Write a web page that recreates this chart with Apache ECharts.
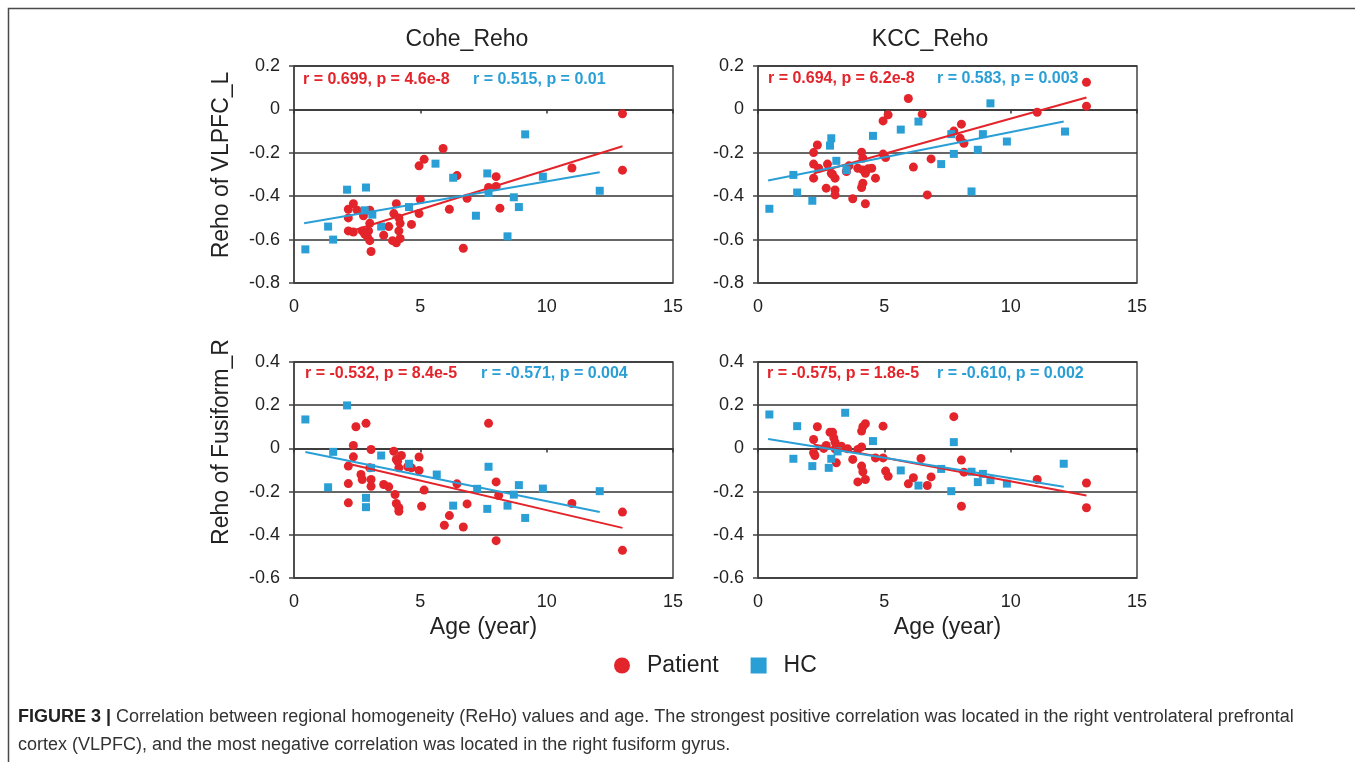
<!DOCTYPE html>
<html>
<head>
<meta charset="utf-8">
<title>FIGURE 3</title>
<script src="https://cdn.jsdelivr.net/npm/echarts@6/dist/echarts.min.js"></script>
<style>
html, body { margin: 0; padding: 0; background: #fff; }
#main { width: 1355px; height: 762px; }
</style>
</head>
<body>
<div id="main"></div>
<script>
// 数据
var ageTicks = [0, 15, 5];           // min, max, interval of the age axis
var vlpfcRange = [-0.8, 0.2];
var fusiformRange = [-0.6, 0.4];

// Reho of VLPFC_L, Cohe_Reho
var coheVlpfcPatient = [[13.0,-0.02],[13.0,-0.28],[5.9,-0.18],[5.15,-0.23],[4.95,-0.26],[6.45,-0.305],[8.0,-0.31],[7.7,-0.36],[8.0,-0.355],[11.0,-0.27],[6.85,-0.41],[6.15,-0.46],[8.15,-0.455],[6.7,-0.64],[5.0,-0.415],[4.95,-0.48],[4.65,-0.53],[4.05,-0.435],[3.95,-0.48],[4.15,-0.5],[4.2,-0.525],[4.15,-0.56],[4.2,-0.595],[4.05,-0.615],[3.9,-0.605],[3.75,-0.54],[3.55,-0.58],[3.0,-0.525],[2.95,-0.56],[2.9,-0.585],[3.0,-0.605],[3.05,-0.655],[2.75,-0.49],[2.35,-0.435],[2.5,-0.465],[2.15,-0.46],[2.15,-0.5],[2.15,-0.56],[2.35,-0.565],[2.7,-0.56],[2.8,-0.575],[3.0,-0.465]];
var coheVlpfcHC = [[0.45,-0.645],[1.35,-0.54],[1.55,-0.6],[2.1,-0.37],[2.85,-0.36],[2.8,-0.465],[3.1,-0.485],[3.45,-0.54],[4.55,-0.45],[5.6,-0.25],[6.3,-0.315],[7.65,-0.295],[7.7,-0.385],[7.2,-0.49],[8.7,-0.405],[8.9,-0.45],[8.45,-0.585],[9.15,-0.115],[9.85,-0.31],[12.1,-0.375]];
var coheVlpfcPatientFit = [[2.15,-0.565],[13.0,-0.17]];
var coheVlpfcHCFit = [[0.4,-0.525],[12.1,-0.29]];

// Reho of VLPFC_L, KCC_Reho
var kccVlpfcPatient = [[13.0,0.125],[13.0,0.015],[11.05,-0.013],[5.95,0.05],[6.5,-0.022],[5.15,-0.025],[4.95,-0.053],[7.75,-0.1],[8.05,-0.068],[8.0,-0.133],[8.15,-0.156],[4.95,-0.206],[5.05,-0.222],[6.85,-0.228],[6.15,-0.266],[6.7,-0.394],[4.1,-0.197],[4.15,-0.225],[3.95,-0.271],[4.15,-0.279],[4.35,-0.274],[4.5,-0.271],[4.25,-0.294],[4.65,-0.317],[4.15,-0.34],[4.1,-0.36],[3.75,-0.412],[4.25,-0.435],[2.35,-0.164],[2.2,-0.199],[2.2,-0.252],[2.4,-0.271],[2.75,-0.252],[2.9,-0.294],[2.2,-0.317],[2.7,-0.363],[3.05,-0.371],[3.05,-0.394],[3.05,-0.317],[3.5,-0.286],[2.95,-0.3],[3.6,-0.26]];
var kccVlpfcHC = [[0.45,-0.458],[1.4,-0.302],[1.55,-0.383],[2.15,-0.421],[2.9,-0.133],[2.85,-0.167],[3.1,-0.237],[3.5,-0.28],[4.55,-0.122],[5.65,-0.093],[6.35,-0.056],[7.25,-0.252],[7.65,-0.114],[7.75,-0.205],[8.45,-0.378],[8.7,-0.186],[8.9,-0.114],[9.2,0.028],[9.85,-0.148],[12.15,-0.102]];
var kccVlpfcPatientFit = [[2.2,-0.295],[13.0,0.055]];
var kccVlpfcHCFit = [[0.4,-0.328],[12.1,-0.056]];

// Reho of Fusiform_R, Cohe_Reho
var coheFusiPatient = [[13.0,-0.295],[13.0,-0.472],[11.0,-0.255],[7.7,0.116],[8.0,-0.155],[8.1,-0.218],[8.0,-0.427],[6.85,-0.257],[6.7,-0.364],[6.45,-0.164],[6.15,-0.311],[5.95,-0.356],[5.15,-0.193],[5.05,-0.268],[4.95,-0.04],[4.95,-0.102],[4.65,-0.09],[4.15,-0.09],[4.25,-0.033],[4.05,-0.051],[3.95,-0.013],[4.0,-0.214],[4.05,-0.255],[4.15,-0.275],[4.15,-0.291],[3.75,-0.178],[3.55,-0.167],[3.05,-0.005],[3.0,-0.09],[3.05,-0.144],[3.05,-0.175],[2.85,0.116],[2.45,0.1],[2.35,0.014],[2.35,-0.039],[2.15,-0.082],[2.65,-0.121],[2.7,-0.144],[2.15,-0.163],[2.15,-0.252],[4.5,-0.085],[4.1,-0.06]];
var coheFusiHC = [[0.45,0.134],[1.55,-0.016],[1.35,-0.18],[2.1,0.199],[2.85,-0.229],[2.85,-0.272],[3.05,-0.09],[3.45,-0.033],[4.55,-0.071],[5.65,-0.121],[6.3,-0.265],[7.25,-0.187],[7.7,-0.085],[7.65,-0.28],[8.45,-0.265],[8.7,-0.214],[8.9,-0.17],[9.15,-0.322],[9.85,-0.186],[12.1,-0.198]];
var coheFusiPatientFit = [[2.15,-0.071],[13.0,-0.368]];
var coheFusiHCFit = [[0.45,-0.017],[12.1,-0.294]];

// Reho of Fusiform_R, KCC_Reho
var kccFusiPatient = [[13.0,-0.16],[13.0,-0.275],[11.05,-0.144],[7.75,0.147],[8.05,-0.054],[8.15,-0.11],[8.05,-0.268],[6.85,-0.132],[6.7,-0.172],[6.45,-0.047],[6.15,-0.136],[5.95,-0.164],[4.95,0.103],[4.95,-0.044],[4.65,-0.044],[5.05,-0.105],[5.15,-0.129],[4.25,0.114],[4.15,0.1],[4.1,0.08],[3.95,-0.005],[4.1,0.007],[4.1,-0.082],[4.15,-0.108],[3.95,-0.155],[4.25,-0.144],[3.75,-0.051],[3.55,-0.002],[3.05,-0.002],[3.05,0.029],[2.95,0.075],[2.85,0.075],[3.0,0.049],[2.35,0.1],[2.2,0.041],[2.2,-0.02],[2.25,-0.033],[2.7,0.014],[3.1,-0.067],[3.3,0.01],[2.6,0.0]];
var kccFusiHC = [[0.45,0.157],[1.55,0.103],[1.4,-0.048],[2.15,-0.082],[2.8,-0.09],[2.9,-0.048],[3.15,-0.014],[3.45,0.165],[4.55,0.034],[5.65,-0.102],[6.35,-0.172],[7.25,-0.095],[7.75,0.029],[7.65,-0.198],[8.45,-0.108],[8.7,-0.156],[8.9,-0.118],[9.2,-0.147],[9.85,-0.163],[12.1,-0.071]];
var kccFusiPatientFit = [[2.2,0.018],[13.0,-0.218]];
var kccFusiHCFit = [[0.4,0.044],[12.1,-0.178]];

var statsText = [
    ["r = 0.699, p = 4.6e-8", "r = 0.515, p = 0.01"],
    ["r = 0.694, p = 6.2e-8", "r = 0.583, p = 0.003"],
    ["r = -0.532, p = 8.4e-5", "r = -0.571, p = 0.004"],
    ["r = -0.575, p = 1.8e-5", "r = -0.610, p = 0.002"]
];

var RED = "#e3242b";
var BLUE = "#2a9fd6";
var FONT = '"Liberation Sans", Arial, sans-serif';

// 画面配置
var panels = [
    {grid: {left: 294, top: 66, width: 379, height: 217}, range: vlpfcRange, pat: coheVlpfcPatient, hc: coheVlpfcHC, patFit: coheVlpfcPatientFit, hcFit: coheVlpfcHCFit, xName: "", stat: [303, 473, 80]},
    {grid: {left: 758, top: 66, width: 379, height: 217}, range: vlpfcRange, pat: kccVlpfcPatient, hc: kccVlpfcHC, patFit: kccVlpfcPatientFit, hcFit: kccVlpfcHCFit, xName: "", stat: [768, 937, 79]},
    {grid: {left: 294, top: 362, width: 379, height: 216}, range: fusiformRange, pat: coheFusiPatient, hc: coheFusiHC, patFit: coheFusiPatientFit, hcFit: coheFusiHCFit, xName: "Age (year)", stat: [305, 481, 374]},
    {grid: {left: 758, top: 362, width: 379, height: 216}, range: fusiformRange, pat: kccFusiPatient, hc: kccFusiHC, patFit: kccFusiPatientFit, hcFit: kccFusiHCFit, xName: "Age (year)", stat: [767, 937, 374]}
];

var grids = [], xAxes = [], yAxes = [], series = [];
var graphics = [
    {type: "polyline", shape: {points: [[8.5, 762], [8.5, 8.5], [1355, 8.5]]}, style: {stroke: "#4a4a4a", lineWidth: 1.5, fill: null}},
    {type: "text", x: 467, y: 40, style: {text: "Cohe_Reho", font: "23px " + FONT, fill: "#222", align: "center", verticalAlign: "middle"}},
    {type: "text", x: 930, y: 40, style: {text: "KCC_Reho", font: "23px " + FONT, fill: "#222", align: "center", verticalAlign: "middle"}},
    {type: "text", x: 222, y: 165, rotation: Math.PI / 2, style: {text: "Reho of VLPFC_L", font: "23px " + FONT, fill: "#222", align: "center", verticalAlign: "middle"}},
    {type: "text", x: 222, y: 442, rotation: Math.PI / 2, style: {text: "Reho of Fusiform_R", font: "23px " + FONT, fill: "#222", align: "center", verticalAlign: "middle"}},
    {type: "text", left: 18, top: 703, style: {
        text: "{b|FIGURE 3 |} Correlation between regional homogeneity (ReHo) values and age. The strongest positive correlation was located in the right ventrolateral prefrontal\ncortex (VLPFC), and the most negative correlation was located in the right fusiform gyrus.",
        font: "18px " + FONT, fill: "#333", lineHeight: 28,
        rich: {b: {fontWeight: "bold", fontSize: 18, fontFamily: FONT, fill: "#222", lineHeight: 28}}
    }}
];

for (var i = 0; i < panels.length; i++) {
    var p = panels[i];
    grids.push({left: p.grid.left, top: p.grid.top, width: p.grid.width, height: p.grid.height,
        show: true, borderColor: "#444", borderWidth: 1.5, backgroundColor: "transparent"});
    // 刻度标签
    xAxes.push({gridIndex: i, type: "value", min: ageTicks[0], max: ageTicks[1], interval: ageTicks[2],
        axisLine: {show: false, onZero: false}, axisTick: {show: false}, splitLine: {show: false},
        axisLabel: {fontSize: 18, color: "#222", margin: 15},
        name: p.xName, nameLocation: "middle", nameGap: 38,
        nameTextStyle: {fontSize: 23, color: "#222"}});
    // y=0 上的小刻度
    xAxes.push({gridIndex: i, type: "value", min: ageTicks[0], max: ageTicks[1], interval: ageTicks[2],
        position: "bottom",
        axisLine: {show: true, onZero: true, lineStyle: {color: "#333", width: 1.5}},
        axisTick: {show: true, length: 4, lineStyle: {color: "#333", width: 1.5}},
        axisLabel: {show: false}, splitLine: {show: false}});
    yAxes.push({gridIndex: i, type: "value", min: p.range[0], max: p.range[1], interval: 0.2,
        axisLine: {show: true, onZero: false, lineStyle: {color: "#444", width: 1.5}},
        axisTick: {show: true, length: 5, lineStyle: {color: "#444", width: 1.5}},
        axisLabel: {fontSize: 18, color: "#222", margin: 14},
        splitLine: {show: true, lineStyle: {color: "#333", width: 1.5}}});

    series.push({type: "scatter", name: "Patient", xAxisIndex: 2 * i, yAxisIndex: i,
        symbol: "circle", symbolSize: 9, itemStyle: {color: RED, opacity: 1}, data: p.pat});
    series.push({type: "scatter", name: "HC", xAxisIndex: 2 * i, yAxisIndex: i,
        symbol: "rect", symbolSize: 8, itemStyle: {color: BLUE, opacity: 1}, data: p.hc});
    series.push({type: "line", name: "Patient fit", xAxisIndex: 2 * i, yAxisIndex: i, symbol: "none",
        silent: true, lineStyle: {color: RED, width: 2}, data: p.patFit});
    series.push({type: "line", name: "HC fit", xAxisIndex: 2 * i, yAxisIndex: i, symbol: "none",
        silent: true, lineStyle: {color: BLUE, width: 2}, data: p.hcFit});

    graphics.push({type: "text", x: p.stat[0], y: p.stat[2], style: {text: statsText[i][0], font: "bold 16px " + FONT, fill: RED, verticalAlign: "middle"}});
    graphics.push({type: "text", x: p.stat[1], y: p.stat[2], style: {text: statsText[i][1], font: "bold 16px " + FONT, fill: BLUE, verticalAlign: "middle"}});
}

var option = {
    animation: false,
    backgroundColor: "#fff",
    textStyle: {fontFamily: FONT},
    legend: {
        data: [{name: "Patient", icon: "circle"}, {name: "HC", icon: "rect"}],
        left: 609, top: 649, itemWidth: 16, itemHeight: 16, itemGap: 32,
        textStyle: {fontSize: 23, color: "#222", padding: [0, 0, 0, 12]}
    },
    grid: grids,
    xAxis: xAxes,
    yAxis: yAxes,
    series: series,
    graphic: graphics
};

var chart = echarts.init(document.getElementById("main"));
chart.setOption(option);
</script>
</body>
</html>
